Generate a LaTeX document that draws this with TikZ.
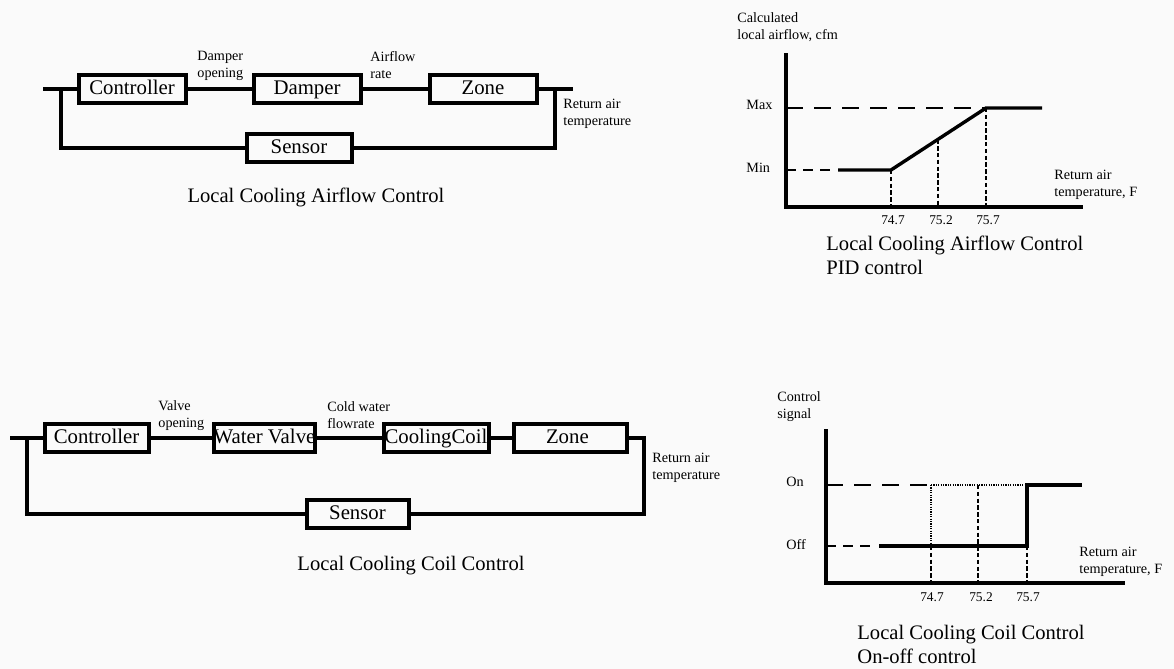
\documentclass[tikz,border=0pt]{standalone}
\usepackage{fontspec}
\setmainfont{Liberation Serif}
\usetikzlibrary{positioning}
\definecolor{cpaper}{RGB}{250,250,250}

\begin{document}
\begin{tikzpicture}[x=0.5pt, y=-0.5pt,
  blockbox/.style={draw, line width=2pt, inner sep=0pt, minimum height=14pt, text height=7pt, text depth=2pt, font=\fontsize{10.4}{12}\selectfont},
  wire/.style={line width=1.75pt},
  flowlabel/.style={anchor=west, align=left, inner sep=0pt, font=\fontsize{7.1}{8.5}\selectfont},
  caption/.style={inner sep=0pt, align=left, font=\fontsize{10.3}{12}\selectfont},
  ticklabel/.style={inner sep=0pt, font=\fontsize{6.7}{7}\selectfont},
  axisline/.style={line width=1.8pt},
  response/.style={line width=1.7pt},
  longdash/.style={line width=1pt, dash pattern=on 8.5pt off 5.5pt},
  shortdash/.style={line width=1pt, dash pattern=on 5pt off 3.5pt},
  guide/.style={line width=0.65pt, dash pattern=on 2.2pt off 1.2pt},
  dotguide/.style={line width=0.65pt, dash pattern=on 0.6pt off 0.6pt}]
  \fill [cpaper] (0, 0) rectangle (1174, 669);
  \useasboundingbox (0, 0) rectangle (1174, 669);

  \coordinate (in1) at (43, 89);
  \coordinate (tapL1) at (61, 89);
  \coordinate (tapR1) at (555, 89);
  \coordinate (out1) at (573, 89);
  \node [blockbox, minimum width=53.5pt] (ctrl1) at (132, 89) {Controller};
  \node [blockbox, minimum width=53.5pt] (damp1) at (307, 89) {Damper};
  \node [blockbox, minimum width=53.5pt] (zone1) at (483, 89) {Zone};
  \node [blockbox, minimum width=52.5pt] (sens1) at (299, 148) {Sensor};
  \draw [wire] (in1) -- (ctrl1) -- (damp1) -- (zone1) -- (out1);
  \draw [wire] (tapR1) |- (sens1) -| (tapL1);

  \node [flowlabel] (dlab1) at (197, 66) {Damper\\opening};
  \node [flowlabel] (alab1) at (370, 65.5) {Airflow\\rate};
  \node [flowlabel] (rlab1) at (563, 114) {Return air\\temperature};
  \node [caption] (cap1) at (316, 197) {Local Cooling Airflow Control};

  \coordinate (in2) at (10, 438);
  \coordinate (tapL2) at (27, 438);
  \coordinate (tapR2) at (644, 514);
  \node [blockbox, minimum width=52pt] (ctrl2) at (96.5, 438) {Controller};
  \node [blockbox, minimum width=50pt] (valve2) at (264.5, 438) {Water Valve};
  \node [blockbox, minimum width=52.5pt] (coil2) at (436, 438) {CoolingCoil};
  \node [blockbox, minimum width=56.5pt, text width=50pt, align=left] (zone2) at (570, 438) {\hspace{13pt}Zone};
  \node [blockbox, minimum width=51pt] (sens2) at (357.5, 514) {Sensor};
  \draw [wire] (in2) -- (ctrl2) -- (valve2) -- (coil2) -- (zone2) -| (tapR2) -- (sens2) -| (tapL2);

  \node [flowlabel] (vlab2) at (158, 415.5) {Valve\\opening};
  \node [flowlabel] (wlab2) at (327, 415.5) {Cold water\\flowrate};
  \node [flowlabel] (rlab2) at (652, 468) {Return air\\temperature};
  \node [caption] (cap3) at (411, 566) {Local Cooling Coil Control};

  \draw [axisline] (786, 53) -- (786, 207) -- (1083, 207);
  \draw [longdash] (786, 108) -- (986, 108);
  \draw [shortdash] (786, 170) -- (836, 170);
  \draw [response] (838, 170) -- (891, 170) -- (986, 108) -- (1042, 108);
  \draw [guide] (891, 170) -- (891, 207);
  \draw [guide] (938, 139.3) -- (938, 207);
  \draw [guide] (986, 108) -- (986, 207);

  \node [flowlabel] (ylab1) at (737, 27.5) {Calculated\\local airflow, cfm};
  \node [flowlabel] (max1) at (746, 105) {Max};
  \node [flowlabel] (min1) at (746, 168) {Min};
  \node [ticklabel] (ta1) at (893, 220) {74.7};
  \node [ticklabel] (tb1) at (941, 220) {75.2};
  \node [ticklabel] (tc1) at (988, 220) {75.7};
  \node [flowlabel] (xlab1) at (1054, 184.5) {Return air\\temperature, F};
  \node [caption, anchor=west] (cap2) at (826, 255) {Local Cooling Airflow Control\\PID control};

  \draw [axisline] (826, 429) -- (826, 583) -- (1125, 583);
  \draw [longdash] (826, 485) -- (931, 485);
  \draw [dotguide] (931, 485) -- (1027, 485);
  \draw [shortdash] (826, 546) -- (872, 546);
  \draw [response] (879, 546) -- (1027, 546) -- (1027, 485) -- (1082, 485);
  \draw [dotguide] (931, 485) -- (931, 546);
  \draw [guide] (931, 546) -- (931, 583);
  \draw [guide] (978, 485) -- (978, 583);
  \draw [guide] (1027, 546) -- (1027, 583);

  \node [flowlabel] (ylab2) at (777, 407) {Control\\signal};
  \node [flowlabel] (on2) at (786, 482) {On};
  \node [flowlabel] (off2) at (786, 545) {Off};
  \node [ticklabel] (ta2) at (932, 597) {74.7};
  \node [ticklabel] (tb2) at (981, 597) {75.2};
  \node [ticklabel] (tc2) at (1028, 597) {75.7};
  \node [flowlabel] (xlab2) at (1079, 561.5) {Return air\\temperature, F};
  \node [caption, anchor=west] (cap4) at (857, 644.5) {Local Cooling Coil Control\\On-off control};
\end{tikzpicture}
\end{document}
